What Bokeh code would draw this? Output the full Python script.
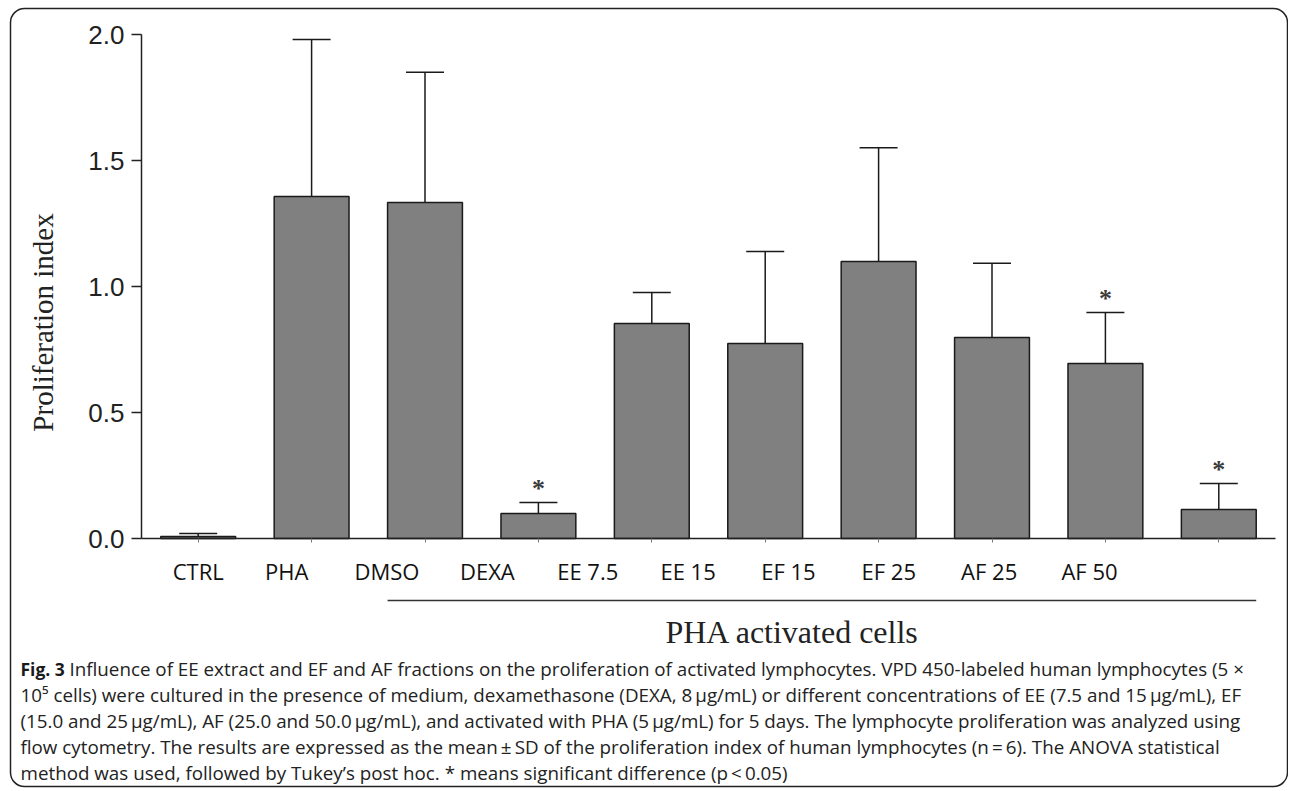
from bokeh.plotting import figure
from bokeh.models import (ColumnDataSource, Whisker, TeeHead, Label, LabelSet, Arrow,
                          FixedTicker, NumeralTickFormatter, BoxAnnotation)
from bokeh.core.properties import value
from bokeh.embed import file_html
from bokeh.resources import INLINE

# ---------------- data ----------------
categories = ["CTRL", "PHA", "DMSO", "DEXA", "EE 7.5", "EE 15", "EF 15", "EF 25", "AF 25", "AF 50"]
means = [0.008, 1.357, 1.333, 0.099, 0.853, 0.774, 1.099, 0.798, 0.694, 0.115]
sds = [0.012, 0.623, 0.517, 0.044, 0.123, 0.365, 0.452, 0.294, 0.203, 0.103]
significant = [False, False, False, True, False, False, False, False, True, True]
y_ticks = [0.0, 0.5, 1.0, 1.5, 2.0]
y_label = "Proliferation index"
group_label = "PHA activated cells"
caption_bold = "Fig. 3"
caption_lines = [
    "Influence of EE extract and EF and AF fractions on the proliferation of activated lymphocytes. VPD 450-labeled human lymphocytes (5 \u00d7",
    "10\u2075 cells) were cultured in the presence of medium, dexamethasone (DEXA, 8\u2009\u03bcg/mL) or different concentrations of EE (7.5 and 15\u2009\u03bcg/mL), EF",
    "(15.0 and 25\u2009\u03bcg/mL), AF (25.0 and 50.0\u2009\u03bcg/mL), and activated with PHA (5\u2009\u03bcg/mL) for 5 days. The lymphocyte proliferation was analyzed using",
    "flow cytometry. The results are expressed as the mean\u2009\u00b1\u2009SD of the proliferation index of human lymphocytes (n\u2009=\u20096). The ANOVA statistical",
    "method was used, followed by Tukey\u2019s post hoc. * means significant difference (p\u2009<\u20090.05)",
]

# ---------------- layout constants (pixels on the canvas) ----------------
W, H = 1288, 789
AX_LEFT, AX_RIGHT, AX_TOP, AX_BOTTOM = 141, 1275, 34, 538
bar_width = 0.66
label_pitch = 0.885
label_shift = -0.105

x0, x1 = -0.5, len(categories) - 0.5
y0, y1 = 0.0, 2.0
ppx = (AX_RIGHT - AX_LEFT) / (x1 - x0)
ppy = (AX_BOTTOM - AX_TOP) / (y1 - y0)


def dx(px):
    return x0 + (px - AX_LEFT) / ppx


def dy(py):
    return y0 + (AX_BOTTOM - py) / ppy


xs = list(range(len(categories)))
upper = [m + s for m, s in zip(means, sds)]
src = ColumnDataSource(dict(x=xs, mean=means, upper=upper, cat=categories))

p = figure(width=W, height=H, x_range=(dx(0), dx(W)), y_range=(dy(H), dy(0)),
           output_backend="svg", toolbar_location=None, min_border=0)
p.title.visible = False
p.xgrid.visible = False
p.ygrid.visible = False
p.outline_line_color = None
p.background_fill_color = "white"
p.border_fill_color = "white"

# y axis (drawn inside the canvas at the plot-area edge)
p.yaxis.fixed_location = x0
p.yaxis.ticker = FixedTicker(ticks=y_ticks)
p.yaxis.formatter = NumeralTickFormatter(format="0.0")
p.yaxis.bounds = (y0, y1)
p.yaxis.major_tick_out = 10
p.yaxis.major_tick_in = 0
p.yaxis.minor_tick_out = 0
p.yaxis.minor_tick_in = 0
p.yaxis.axis_line_width = 1.5
p.yaxis.axis_line_color = "#222222"
p.yaxis.major_tick_line_width = 1.5
p.yaxis.major_tick_line_color = "#222222"
p.yaxis.major_label_text_font = "Liberation Sans"
p.yaxis.major_label_text_font_size = "26px"
p.yaxis.major_label_text_color = "#222222"
p.yaxis.major_label_standoff = 7

# x axis
p.xaxis.fixed_location = y0
p.xaxis.bounds = (x0, x1)
p.xaxis.ticker = FixedTicker(ticks=xs)
p.xaxis.major_label_overrides = {i: "" for i in xs}
p.xaxis.major_tick_out = 4
p.xaxis.major_tick_in = 0
p.xaxis.minor_tick_out = 0
p.xaxis.minor_tick_in = 0
p.xaxis.axis_line_width = 1.5
p.xaxis.axis_line_color = "#222222"
p.xaxis.major_tick_line_color = "#777777"

# bars
p.vbar(x="x", top="mean", bottom=0, width=bar_width, source=src,
       fill_color="#808080", line_color="#1a1a1a", line_width=1.5)

# error bars (upper only)
p.add_layout(Whisker(source=src, base="x", upper="upper", lower="mean",
                     line_color="#1a1a1a", line_width=1.5,
                     upper_head=TeeHead(size=38, line_color="#1a1a1a", line_width=1.5),
                     lower_head=None))

# significance stars
star_gap = 14 / ppy
sig_x = [x for x, s in zip(xs, significant) if s]
sig_y = [u + star_gap for u, s in zip(upper, significant) if s]
p.text(x=sig_x, y=sig_y, text=["*"] * len(sig_x), text_align="center",
       text_baseline="alphabetic", text_font=value("Liberation Serif"),
       text_font_style="bold", text_font_size="26px", text_color="#3a3a3a")

# category labels
label_x = [max(0.0, i * label_pitch + label_shift) for i in xs]
lab_src = ColumnDataSource(dict(x=label_x, y=[dy(570)] * len(xs), text=categories))
p.add_layout(LabelSet(x="x", y="y", text="text", source=lab_src, text_align="center",
                      text_baseline="middle", text_font=value("Open Sans"),
                      text_font_size="22px", text_color="#111111"))

# group bracket line + label
p.add_layout(Arrow(end=None, x_start=2 - bar_width / 2, x_end=len(xs) - 1 + bar_width / 2,
                   y_start=dy(600), y_end=dy(600), line_color="#333333", line_width=1.5))
p.add_layout(Label(x=dx(792), y=dy(631), text=group_label, text_align="center",
                   text_baseline="middle", text_font="Liberation Serif",
                   text_font_size="32px", text_color="#222222"))

# y-axis title
p.add_layout(Label(x=dx(42), y=dy(322), text=y_label, angle=90, angle_units="deg",
                   text_align="center", text_baseline="middle", text_font="Liberation Serif",
                   text_font_size="29px", text_color="#222222"))

# caption
cap_y0 = 668
cap_dy = 26
p.add_layout(Label(x=dx(20), y=dy(cap_y0), text=caption_bold, text_align="left",
                   text_baseline="middle", text_font="Open Sans", text_font_style="bold",
                   text_font_size="17.5px", text_color="#1a1a1a"))
for i, line in enumerate(caption_lines):
    p.add_layout(Label(x=dx(69 if i == 0 else 20), y=dy(cap_y0 + i * cap_dy), text=line,
                       text_align="left", text_baseline="middle", text_font="Open Sans",
                       text_font_size="18.8px", text_color="#222222"))

# outer figure border
p.add_layout(BoxAnnotation(left=dx(10), right=dx(1287), top=dy(8), bottom=dy(786),
                           fill_alpha=0, line_color="#222222", line_alpha=1.0,
                           line_width=1.5, border_radius=14))

open("out.html", "w").write(file_html(p, INLINE))
